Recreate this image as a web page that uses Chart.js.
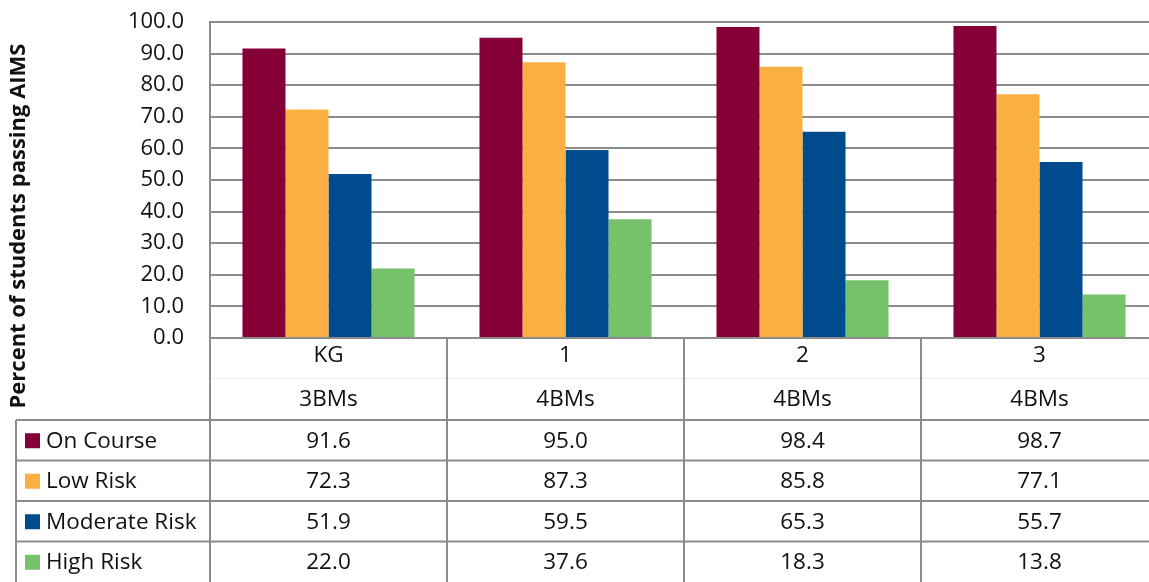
<!DOCTYPE html>
<html>
<head>
<meta charset="utf-8">
<script src="https://cdn.jsdelivr.net/npm/chart.js@4/dist/chart.umd.min.js"></script>
<style>
html,body{margin:0;padding:0;background:#fff;overflow:hidden}
#wrap{width:1160px;height:582px}
</style>
</head>
<body>
<div id="wrap"><canvas id="c" width="1160" height="582"></canvas></div>
<script>
const grades=["KG","1","2","3"]
const bms=["3BMs","4BMs","4BMs","4BMs"]
const seriesNames=["On Course","Low Risk","Moderate Risk","High Risk"]
const onCourse=[91.6,95.0,98.4,98.7]
const lowRisk=[72.3,87.3,85.8,77.1]
const moderateRisk=[51.9,59.5,65.3,55.7]
const highRisk=[22.0,37.6,18.3,13.8]
const colors=["#860038","#FAAF42","#004B8E","#76C26B"]
const yTitle="Percent of students passing AIMS"

const FONT="'Open Sans', sans-serif"
const LINE="#8c8c8c"

const allSeries=[onCourse,lowRisk,moderateRisk,highRisk]

const tablePlugin={
id:"table",
afterDraw(chart){

const ctx=chart.ctx
const x=chart.scales.x
const a=chart.chartArea
const left=a.left
const right=a.right
const top=a.bottom
const legendLeft=16
const headBottom=420
const rowH=(582-headBottom)/4

ctx.save()
ctx.strokeStyle=LINE
ctx.lineWidth=2

// axis line under the bars
ctx.beginPath()
ctx.moveTo(left,top)
ctx.lineTo(right,top)
ctx.stroke()

// faint line inside header
ctx.strokeStyle="#ececec"
ctx.lineWidth=1
ctx.beginPath()
ctx.moveTo(left,378.5)
ctx.lineTo(right,378.5)
ctx.stroke()

ctx.strokeStyle=LINE
ctx.lineWidth=2

// row lines
for(let r=0;r<4;r++){
let y=headBottom+r*rowH
ctx.beginPath()
ctx.moveTo(legendLeft,y)
ctx.lineTo(right,y)
ctx.stroke()
}

// vertical lines at category boundaries
let step=(right-left)/grades.length
for(let i=0;i<=grades.length;i++){
let vx=left+i*step
ctx.beginPath()
ctx.moveTo(vx,top)
ctx.lineTo(vx,582)
ctx.stroke()
}

ctx.beginPath()
ctx.moveTo(legendLeft,headBottom)
ctx.lineTo(legendLeft,582)
ctx.stroke()

ctx.fillStyle="#111"
ctx.font="22.5px "+FONT
ctx.textAlign="center"
ctx.textBaseline="middle"

grades.forEach((g,i)=>{
let cx=x.getPixelForValue(i)
ctx.fillText(g,cx,356)
ctx.fillText(bms[i],cx,400)
allSeries.forEach((s,r)=>{
ctx.fillText(s[i].toFixed(1),cx,headBottom+r*rowH+rowH/2+1)
})
})

ctx.textAlign="left"
seriesNames.forEach((n,r)=>{
let cy=headBottom+r*rowH+rowH/2
ctx.fillStyle=colors[r]
ctx.fillRect(25,cy-7,15,15)
ctx.fillStyle="#111"
ctx.fillText(n,46,cy+1)
})

ctx.translate(19,226)
ctx.rotate(-Math.PI/2)
ctx.textAlign="center"
ctx.font="bold 22px "+FONT
ctx.fillText(yTitle,0,0)

ctx.restore()

}
}

new Chart(document.getElementById("c"),{

type:"bar",

data:{
labels:grades,
datasets:seriesNames.map((n,i)=>({
label:n,
data:allSeries[i],
backgroundColor:colors[i],
borderWidth:0,
categoryPercentage:0.726,
barPercentage:1
}))
},

options:{
responsive:false,
animation:false,
layout:{padding:{top:22,bottom:244,right:2,left:0}},
plugins:{legend:{display:false},tooltip:{enabled:false}},
scales:{
x:{display:false},
y:{
min:0,
max:100,
afterFit(s){s.width=210;s.paddingTop=0;s.paddingBottom=0},
ticks:{
stepSize:10,
padding:26,
color:"#111",
font:{family:FONT,size:22},
callback:v=>v.toFixed(1)
},
grid:{color:LINE,lineWidth:2,drawTicks:false},
border:{display:true,color:LINE,width:2}
}
}
},

plugins:[tablePlugin]

})
</script>
</body>
</html>
